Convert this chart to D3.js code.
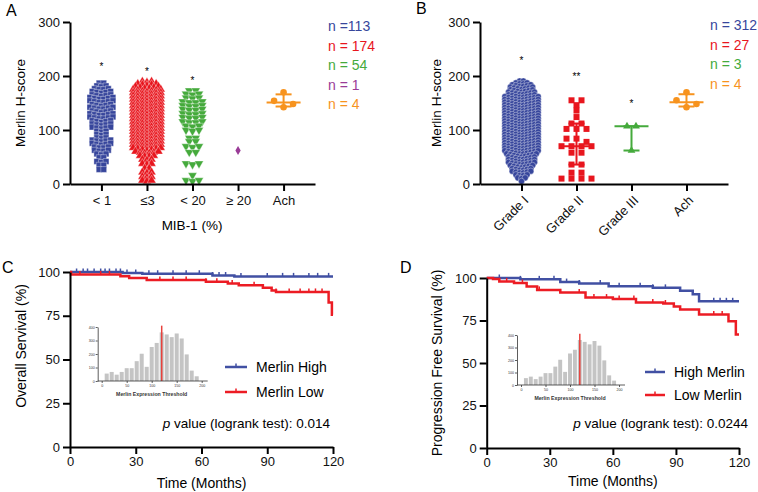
<!DOCTYPE html>
<html>
<head>
<meta charset="utf-8">
<script src="https://cdn.jsdelivr.net/npm/d3@7"></script>
<style>
body { margin: 0; background: #fff; }
svg text { font-family: "Liberation Sans", Arial, sans-serif; }
</style>
</head>
<body>
<script>
// ---------- data: panel A (MIB-1) ----------
const catsA = ["< 1", "≤3", "< 20", "≥ 20", "Ach"];
const nLabelsA = ["n =113", "n = 174", "n = 54", "n = 1", "n = 4"];
// [H-score, number of cases]
const lt1Scores = [[186,2],[180,3],[174,4],[168,5],[162,5],[156,6],[150,6],[144,5],[138,6],[132,5],[126,6],[120,6],
  [114,5],[108,5],[102,5],[96,3],[90,3],[84,3],[78,5],[72,5],[66,4],[60,4],[54,3],[48,2],[40,3],[34,2],[26,2]];
const le3Scores = [[188,3],[182,5],[176,6],[170,7],[164,7],[158,7],[152,7],[146,7],[140,7],[134,7],[128,7],[122,7],
  [116,7],[110,7],[104,7],[98,7],[92,7],[86,7],[80,7],[74,7],[68,7],[62,7],[56,6],[50,4],[44,3],[36,3],[28,2],
  [20,3],[12,3],[5,3]];
const lt20Scores = [[172,2],[165,3],[158,3],[150,4],[143,4],[136,4],[128,4],[121,4],[113,4],[106,3],[98,3],
  [84,2],[78,2],[68,3],[58,2],[36,3],[16,1],[5,3]];
const ge20Scores = [[62,1]];
const achScoresA = [[170,1],[154,1],[148,1],[142,1]];
const starsA = [["< 1",220,"*"],["≤3",211,"*"],["< 20",194,"*"]];

// ---------- data: panel B (grade) ----------
const catsB = ["Grade I", "Grade II", "Grade III", "Ach"];
const nLabelsB = ["n = 312", "n = 27", "n = 3", "n = 4"];
const grade1Scores = [[190,2],[185,4],[180,6],[175,7],[170,7],[165,8],[160,8],[155,10],[150,10],[145,10],[140,10],
  [135,10],[130,10],[125,10],[120,10],[115,10],[110,10],[105,10],[100,10],[95,10],[90,10],[85,10],[80,10],[75,10],
  [70,10],[65,10],[60,10],[55,10],[50,9],[45,8],[40,8],[35,8],[30,7],[25,6],[20,6],[15,4],[10,3],[5,1]];
const grade2Scores = [[155,2],[146,1],[136,1],[124,1],[112,2],[102,3],[84,2],[78,1],[70,4],[58,2],[36,2],[21,2],[10,4]];
const grade3Scores = [[107,2],[62,1]];
const achScoresB = [[170,1],[155,1],[148,1],[142,1]];
const starsB = [["Grade I",231,"*"],["Grade II",202,"**"],["Grade III",152,"*"]];

// ---------- data: Kaplan-Meier (months, % surviving) ----------
const osHigh = [[0,100],[24,99.4],[33,99],[65,98],[75,97.5],[120,97.5]];
const osLow = [[0,100],[0.5,98.6],[23,97.6],[27,96.6],[35,95.4],[62,94.4],[72,93.4],[77,92.4],[88,91],[92,89.4],
  [94,88.6],[118,82.6],[119.5,75.6],[120,75.6]];
const osHighCens = [3,6,8,11,14,16,18,21,23,26,30,36,40,47,53,59,65,68,71,78,90,97,102,109,113,118];
const osLowCens = [4.5,14,18,41,47,53,62,67,74,84,94,100,105,109,112,115];

const pfsHigh = [[0,100],[16,99.2],[35,97.6],[44,96.7],[58,95.1],[79,94.2],[92,92.5],[98,90.5],[101,86.3],[120,86.3]];
const pfsLow = [[0,100],[3,99.4],[6,98],[13,97],[19,95],[24,93],[35,91.5],[47,88.5],[60,87.6],[71,85.6],[84,85],
  [89,83.3],[92,81.4],[101,78.6],[115,74.5],[118.5,66.7],[120,66.7]];
const pfsHighCens = [6,16,25,32,38,44,54,63,73,79,85,92,98,108,111,114,117];
const pfsLowCens = [9.5,17,25,35,44,51,57,63,70,79,85,92,101,108,112];

// inset histogram of Merlin H-score
const histBins = [10,20,30,40,50,60,70,80,90,100,110,120,130,140,150,160,170,180,190];
const histCounts = [55,67,47,67,95,95,147,202,105,252,282,360,345,325,352,315,197,77,35];
const threshold = 120;

// ---------- colours ----------
const cBlue = "#37469c", cRed = "#e8161e", cGreen = "#45aa3c", cPurple = "#9a3b97", cOrange = "#f7931e";
const kmBlue = "#4150a3", kmRed = "#ec1c24";
const FONT = '"Liberation Sans", Arial, sans-serif';

const svg = d3.select("body").append("svg")
  .attr("width", 758).attr("height", 492)
  .style("background", "#fff");

function styleAxis(g, fs) {
  g.attr("font-family", FONT);
  g.select(".domain").attr("stroke", "#000").attr("stroke-width", 2);
  g.selectAll(".tick line").attr("stroke", "#000").attr("stroke-width", 2);
  g.selectAll(".tick text").attr("font-size", fs).attr("fill", "#111");
}

function expand(pairs) {
  let out = [];
  pairs.forEach(p => { for (let i = 0; i < p[1]; i++) out.push(p[0]); });
  return out;
}

// spread values that sit close together side by side (GraphPad style)
function swarm(values, binH, dx) {
  let sorted = values.slice().sort((a, b) => b - a);
  let rows = [], cur = null;
  sorted.forEach(v => {
    if (cur && cur.ref - v <= binH) cur.vals.push(v);
    else { cur = { ref: v, vals: [v] }; rows.push(cur); }
  });
  let pts = [];
  rows.forEach(r => r.vals.forEach((v, i) => pts.push({ v: v, off: (i - (r.vals.length - 1) / 2) * dx })));
  return pts;
}

function quart(s, p) {
  let n = s.length, pos = (n + 1) * p;
  if (pos <= 1) return s[0];
  if (pos >= n) return s[n - 1];
  let lo = Math.floor(pos);
  return s[lo - 1] + (pos - lo) * (s[lo] - s[lo - 1]);
}

function scatterPanel(x, y, groups, stars) {
  groups.forEach(gr => {
    let vals = expand(gr.data);
    let pts = swarm(vals, gr.binH, gr.dx);
    let sym = d3.symbol().type(gr.sym).size(gr.size);
    let bend = gr.bend || 0;
    svg.append("g").selectAll("path")
      .data(pts)
      .enter()
      .append("path")
      .attr("d", sym)
      .attr("transform", d => `translate(${x(gr.cat) + d.off},${y(d.v) - bend * Math.abs(d.off)})` + (gr.rot ? ` rotate(${gr.rot})` : ""))
      .attr("fill", gr.color)
      .attr("stroke", bend ? "#fff" : "none")
      .attr("stroke-width", 0.45)
      .attr("stroke-opacity", 0.8);

    if (gr.bars) {
      let s = vals.slice().sort((a, b) => a - b);
      let med = quart(s, 0.5), q1 = quart(s, 0.25), q3 = quart(s, 0.75);
      let cx = x(gr.cat);
      let eb = svg.append("g").attr("stroke", gr.color).attr("stroke-width", 2);
      eb.append("line").attr("x1", cx).attr("x2", cx).attr("y1", y(q1)).attr("y2", y(q3));
      eb.append("line").attr("x1", cx - 17).attr("x2", cx + 17).attr("y1", y(med)).attr("y2", y(med));
      eb.append("line").attr("x1", cx - 8).attr("x2", cx + 8).attr("y1", y(q1)).attr("y2", y(q1));
      eb.append("line").attr("x1", cx - 8).attr("x2", cx + 8).attr("y1", y(q3)).attr("y2", y(q3));
    }
  });

  svg.append("g").selectAll("text")
    .data(stars)
    .enter()
    .append("text")
    .attr("x", d => x(d[0]))
    .attr("y", d => y(d[1]) + 5)
    .attr("text-anchor", "middle")
    .attr("font-size", 10)
    .text(d => d[2]);
}

// ================= Panel A =================
const xA = d3.scalePoint().domain(catsA).range([70, 315]).padding(0.69);
const yA = d3.scaleLinear().domain([0, 300]).range([184, 22]);

scatterPanel(xA, yA, [
  { cat: catsA[0], data: lt1Scores, color: cBlue, sym: d3.symbolSquare, size: 34, binH: 2, dx: 4.6, bend: 0.2 },
  { cat: catsA[1], data: le3Scores, color: cRed, sym: d3.symbolTriangle, size: 34, binH: 2, dx: 4.6, bend: 0.2 },
  { cat: catsA[2], data: lt20Scores, color: cGreen, sym: d3.symbolTriangle, size: 34, rot: 180, binH: 2, dx: 6.5, bend: 0.15 },
  { cat: catsA[3], data: ge20Scores, color: cPurple, sym: d3.symbolDiamond, size: 24, binH: 2, dx: 5 },
  { cat: catsA[4], data: achScoresA, color: cOrange, sym: d3.symbolCircle, size: 34, binH: 7, dx: 19, bars: true }
], starsA);

svg.append("g")
  .attr("transform", "translate(70,0)")
  .call(d3.axisLeft(yA).tickValues([0, 100, 200, 300]).tickSize(7).tickPadding(3).tickSizeOuter(0))
  .call(g => styleAxis(g, 13));
svg.append("g")
  .attr("transform", "translate(0,184)")
  .call(d3.axisBottom(xA).tickSize(7).tickPadding(5).tickSizeOuter(0))
  .call(g => styleAxis(g, 13));

svg.append("text").attr("x", 192).attr("y", 230).attr("text-anchor", "middle").attr("font-size", 13.5).text("MIB-1 (%)");
svg.append("text").attr("transform", "translate(20,103) rotate(-90)").attr("text-anchor", "middle")
  .attr("dominant-baseline", "central").attr("font-size", 13.5).text("Merlin H-score");
svg.append("text").attr("x", 6).attr("y", 16).attr("font-size", 16).text("A");

svg.append("g").selectAll("text")
  .data(nLabelsA)
  .enter()
  .append("text")
  .attr("x", 328)
  .attr("y", (d, i) => 31 + i * 19.5)
  .attr("font-size", 14)
  .attr("fill", (d, i) => [cBlue, cRed, cGreen, cPurple, cOrange][i])
  .text(d => d);

// ================= Panel B =================
const xB = d3.scalePoint().domain(catsB).range([480, 728]).padding(0.755);
const yB = d3.scaleLinear().domain([0, 300]).range([184, 22]);

scatterPanel(xB, yB, [
  { cat: catsB[0], data: grade1Scores, color: cBlue, sym: d3.symbolCircle, size: 30, binH: 2, dx: 3.7, bend: 0.22 },
  { cat: catsB[1], data: grade2Scores, color: cRed, sym: d3.symbolSquare, size: 36, binH: 7, dx: 10, bars: true },
  { cat: catsB[2], data: grade3Scores, color: cGreen, sym: d3.symbolTriangle, size: 26, binH: 7, dx: 9, bars: true },
  { cat: catsB[3], data: achScoresB, color: cOrange, sym: d3.symbolCircle, size: 34, binH: 8, dx: 20, bars: true }
], starsB);

svg.append("g")
  .attr("transform", "translate(480,0)")
  .call(d3.axisLeft(yB).tickValues([0, 100, 200, 300]).tickSize(7).tickPadding(3).tickSizeOuter(0))
  .call(g => styleAxis(g, 13));
svg.append("g")
  .attr("transform", "translate(0,184)")
  .call(d3.axisBottom(xB).tickSize(7).tickSizeOuter(0))
  .call(g => styleAxis(g, 13))
  .selectAll(".tick text")
  .attr("text-anchor", "end")
  .attr("x", 0).attr("y", 0).attr("dy", "0.35em")
  .attr("transform", "translate(4,14) rotate(-45)");

svg.append("text").attr("transform", "translate(436,103) rotate(-90)").attr("text-anchor", "middle")
  .attr("dominant-baseline", "central").attr("font-size", 13.5).text("Merlin H-score");
svg.append("text").attr("x", 416).attr("y", 14).attr("font-size", 16).text("B");

svg.append("g").selectAll("text")
  .data(nLabelsB)
  .enter()
  .append("text")
  .attr("x", 710)
  .attr("y", (d, i) => 30 + i * 19.7)
  .attr("font-size", 14)
  .attr("fill", (d, i) => [cBlue, cRed, cGreen, cOrange][i])
  .text(d => d);

// ================= KM panels =================
function survAt(curve, t) {
  let v = curve[0][1];
  curve.forEach(p => { if (p[0] <= t) v = p[1]; });
  return v;
}

function inset(x0, x1, yBase, yTop) {
  let xi = d3.scaleLinear().domain([0, 200]).range([x0, x1]);
  let yi = d3.scaleLinear().domain([0, 400]).range([yBase, yTop]);
  let bw = (xi(10) - xi(0)) * 0.8;
  let g = svg.append("g");
  g.selectAll("rect")
    .data(histBins)
    .enter()
    .append("rect")
    .attr("x", (d, i) => xi(d) - bw / 2)
    .attr("y", (d, i) => yi(histCounts[i]))
    .attr("width", bw)
    .attr("height", (d, i) => yBase - yi(histCounts[i]))
    .attr("fill", "#c4c4c4");
  g.append("line")
    .attr("x1", xi(threshold)).attr("x2", xi(threshold))
    .attr("y1", yBase).attr("y2", yi(410))
    .attr("stroke", "#e8413c").attr("stroke-width", 1.5);
  let ax = x0 - 4;
  let ya = g.append("g").attr("transform", `translate(${ax},0)`)
    .call(d3.axisLeft(yi).tickValues([0, 100, 200, 300, 400]).tickSize(2).tickPadding(1).tickSizeOuter(0));
  let xa = g.append("g").attr("transform", `translate(0,${yBase})`)
    .call(d3.axisBottom(xi).tickValues([0, 50, 100, 150, 200]).tickSize(2).tickPadding(1.5).tickSizeOuter(0));
  xa.select(".domain").attr("d", `M${ax},0H${x1 + 6}`);
  [ya, xa].forEach(a => {
    a.attr("font-family", FONT);
    a.select(".domain").attr("stroke", "#333").attr("stroke-width", 0.8);
    a.selectAll(".tick line").attr("stroke", "#333").attr("stroke-width", 0.8);
    a.selectAll(".tick text").attr("font-size", 3.6).attr("fill", "#333");
  });
  g.append("text")
    .attr("x", (x0 + x1) / 2).attr("y", yBase + 15)
    .attr("text-anchor", "middle").attr("font-size", 5.2).attr("font-weight", "bold").attr("fill", "#333")
    .text("Merlin Expression Threshold");
}

function kmPanel(o) {
  let x = d3.scaleLinear().domain([0, 120]).range([o.x0, o.x1]);
  let y = d3.scaleLinear().domain([0, 100]).range([o.y0, o.y1]);

  inset(o.inset[0], o.inset[1], o.inset[2], o.inset[3]);

  let line = d3.line().x(d => x(d[0])).y(d => y(d[1])).curve(d3.curveStepAfter);
  o.curves.forEach(c => {
    svg.append("path").datum(c.data)
      .attr("d", line)
      .attr("fill", "none")
      .attr("stroke", c.color)
      .attr("stroke-width", 2.5);
    svg.append("g").selectAll("line")
      .data(c.cens)
      .enter()
      .append("line")
      .attr("x1", d => x(d)).attr("x2", d => x(d))
      .attr("y1", d => y(survAt(c.data, d)) - 3.5)
      .attr("y2", d => y(survAt(c.data, d)))
      .attr("stroke", c.color)
      .attr("stroke-width", 1.5);
  });

  svg.append("g")
    .attr("transform", `translate(${o.x0},0)`)
    .call(d3.axisLeft(y).tickValues([0, 25, 50, 75, 100]).tickSize(7).tickPadding(3).tickSizeOuter(0))
    .call(g => styleAxis(g, 13));
  svg.append("g")
    .attr("transform", `translate(0,${o.y0})`)
    .call(d3.axisBottom(x).tickValues([0, 30, 60, 90, 120]).tickSize(7).tickPadding(3).tickSizeOuter(0))
    .call(g => styleAxis(g, 13));

  // legend
  o.curves.forEach((c, i) => {
    let ly = o.legY[i];
    svg.append("line").attr("x1", o.legX).attr("x2", o.legX + o.legW).attr("y1", ly).attr("y2", ly)
      .attr("stroke", c.color).attr("stroke-width", 2.5);
    svg.append("line").attr("x1", o.legX + o.legW / 2).attr("x2", o.legX + o.legW / 2)
      .attr("y1", ly - 3.5).attr("y2", ly).attr("stroke", c.color).attr("stroke-width", 1.5);
    svg.append("text").attr("x", o.legX + o.legW + 9).attr("y", ly + 5)
      .attr("font-size", 14).text(c.name);
  });

  let pt = svg.append("text").attr("x", o.pX).attr("y", o.pY).attr("text-anchor", "end").attr("font-size", 13.5);
  pt.append("tspan").attr("font-style", "italic").text("p");
  pt.append("tspan").text(" value (logrank test): " + o.p);

  svg.append("text").attr("x", (o.x0 + o.x1) / 2).attr("y", o.xtY).attr("text-anchor", "middle")
    .attr("font-size", 14).text("Time (Months)");
  svg.append("text").attr("transform", `translate(${o.ytX},${o.ytY}) rotate(-90)`).attr("text-anchor", "middle")
    .attr("dominant-baseline", "central").attr("font-size", 14).text(o.yTitle);
  svg.append("text").attr("x", o.labX).attr("y", o.labY).attr("font-size", 16).text(o.label);
}

kmPanel({
  x0: 70, x1: 333, y0: 447, y1: 272,
  inset: [101.7, 201.7, 381, 327],
  curves: [
    { name: "Merlin High", data: osHigh, cens: osHighCens, color: kmBlue },
    { name: "Merlin Low", data: osLow, cens: osLowCens, color: kmRed }
  ],
  legX: 225, legW: 22, legY: [367, 392],
  pX: 330, pY: 428, p: "0.014",
  xtY: 488, ytX: 21, ytY: 346, yTitle: "Overall Servival (%)",
  label: "C", labX: 2, labY: 273
});

kmPanel({
  x0: 486.7, x1: 739, y0: 448, y1: 278,
  inset: [521, 619, 385, 335],
  curves: [
    { name: "High Merlin", data: pfsHigh, cens: pfsHighCens, color: kmBlue },
    { name: "Low Merlin", data: pfsLow, cens: pfsLowCens, color: kmRed }
  ],
  legX: 645, legW: 20, legY: [372, 395],
  pX: 748, pY: 428, p: "0.0244",
  xtY: 486, ytX: 437, ytY: 363, yTitle: "Progression Free Survival (%)",
  label: "D", labX: 400, labY: 273
});
</script>
</body>
</html>
